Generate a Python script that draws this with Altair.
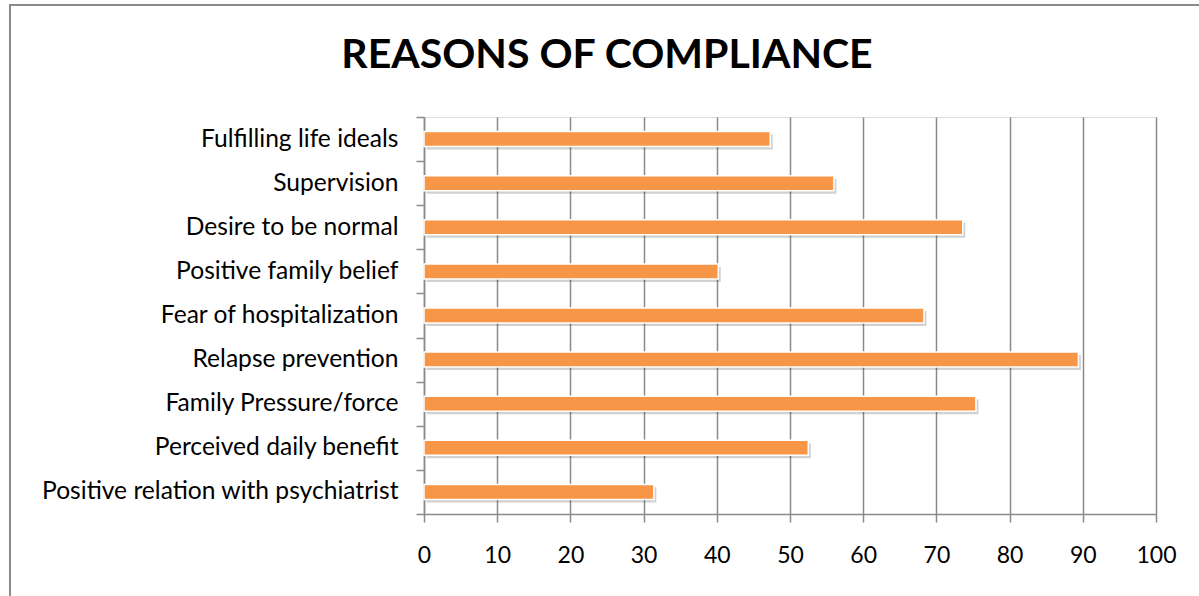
import altair as alt
import pandas as pd

reasons = [
    "Fulfilling life ideals",
    "Supervision",
    "Desire to be normal",
    "Positive family belief",
    "Fear of hospitalization",
    "Relapse prevention",
    "Family Pressure/force",
    "Perceived daily benefit",
    "Positive relation with psychiatrist",
]
values = [47.3, 56.0, 73.6, 40.2, 68.3, 89.4, 75.4, 52.5, 31.4]
x_ticks = [0, 10, 20, 30, 40, 50, 60, 70, 80, 90, 100]
title_text = ["REASONS OF COMPLIANCE"]

df = pd.DataFrame({"reason": reasons, "value": values})
df_title = pd.DataFrame({"t": title_text})

FONT = "Lato"
W, H = 732, 397
PL, PT = 424, 117

x_enc = alt.X(
    "value:Q",
    scale=alt.Scale(domain=[0, 100], nice=False),
    axis=alt.Axis(
        values=x_ticks, title=None, grid=True, gridColor="#8a8a8a", gridWidth=1.5,
        domainColor="#8a8a8a", domainWidth=1.5, tickColor="#8a8a8a", tickWidth=1.5,
        tickSize=8, labelFont=FONT, labelFontSize=23, labelColor="#000000",
        labelPadding=22, labelFlush=False,
    ),
)
y_enc = alt.Y(
    "reason:N",
    sort=reasons,
    scale=alt.Scale(paddingInner=0, paddingOuter=0),
    axis=alt.Axis(
        title=None, grid=False, domainColor="#8a8a8a", domainWidth=1.5,
        tickColor="#8a8a8a", tickWidth=1.5, tickSize=8, tickBand="extent",
        labelFont=FONT, labelFontSize=24.6, labelColor="#000000", labelPadding=18,
        labelLimit=0,
    ),
)

frame = alt.Chart(df).mark_rect(fill=None, stroke="#8a8a8a", strokeWidth=2).encode(
    x=alt.value(10 - PL), x2=alt.value(1199 - PL + 20),
    y=alt.value(5 - PT), y2=alt.value(596 - PT + 20),
)

title = alt.Chart(df_title).mark_text(
    font=FONT, fontSize=41, fontWeight="bold", color="#000000",
    align="center", baseline="middle",
).encode(text="t:N", x=alt.value(607 - PL), y=alt.value(56 - PT))

shadow = alt.Chart(df).mark_bar(
    size=15, color="#000000", opacity=0.18, xOffset=2.5, yOffset=3
).encode(x=x_enc, y=y_enc)

bars = alt.Chart(df).mark_bar(
    size=15, color="#F79646", stroke="#ffffff", strokeWidth=1.5
).encode(x=x_enc, y=y_enc)

chart = alt.layer(frame, title, shadow, bars).properties(
    width=W, height=H,
    autosize=alt.AutoSizeParams(type="none"),
    padding={"left": PL, "top": PT, "right": 1199 - PL - W, "bottom": 596 - PT - H},
).configure_view(stroke=None).configure(background="#ffffff")

chart.save("out.html", embed_options={"renderer": "svg", "actions": False})
